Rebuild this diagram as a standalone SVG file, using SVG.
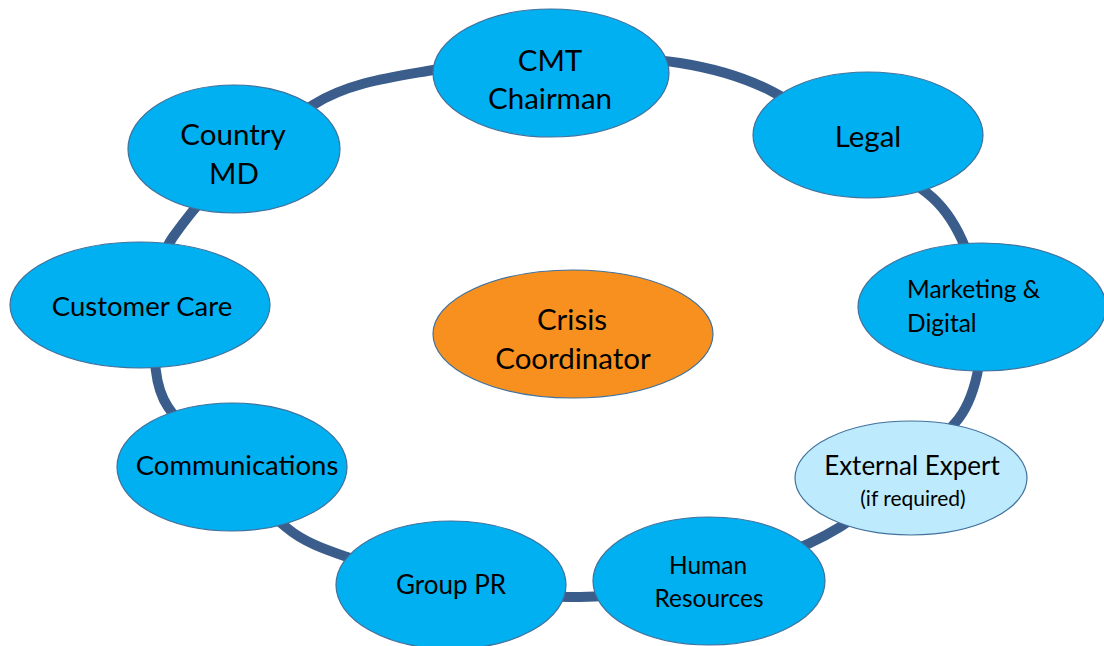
<svg xmlns="http://www.w3.org/2000/svg" width="1104" height="646" viewBox="0 0 1104 646">
<style>
.node{fill:#00B0F0;stroke:#41719C;stroke-width:1.2}
.ext{fill:#BDEBFD;stroke:#41719C;stroke-width:1.2}
.core{fill:#F7901E;stroke:#41719C;stroke-width:1.2}
text{font-family:Lato,"Open Sans","Liberation Sans",sans-serif;fill:#000;text-anchor:middle}
.lg{font-size:29.5px}
.md{font-size:27.5px}
.sm{font-size:26px}
.xs{font-size:24.5px}
.tiny{font-size:21px}
.ring{fill:none;stroke:#3B5D8C;stroke-width:10}
</style>
<rect width="1104" height="646" fill="#fff"/>
<g id="connectors">
<path class="ring" d="M433,70 C478.1,62.1 524.2,61.3 570,60 C606.7,59 643.7,57.3 680,63 C712.1,68.1 744.2,76.9 773,92 C827.3,120.6 878.6,155.1 927,193 C942.4,205 953.9,222.2 962,240 C972,262 977.3,286 980,310 C982.4,331.6 981.7,353.8 977,375 C973.2,392.2 966.8,409.9 955,423 C920.4,461.4 884,499.9 840,527 C797.5,553.1 748.2,567 700,580 C661,590.5 620.4,596.2 580,597 C536.5,597.9 492.9,592.4 450,585 C414.9,579 380.6,568.7 347,557 C326,549.7 304,542.3 287,528 C243.6,491.7 199.4,454.1 168,407 C153.6,385.4 154.2,356 155,330 C155.9,298.4 154.8,262.8 173,237 C209.9,184.6 259.1,139.6 313,105 C348.1,82.5 391.9,77.2 433,70 Z"/>
</g>
<g id="cmt-chairman">
<ellipse class="node" cx="551" cy="73" rx="118" ry="64"/>
<text class="lg" x="550" y="71">CMT</text>
<text class="lg" x="550" y="109">Chairman</text>
</g>
<g id="legal">
<ellipse class="node" cx="868" cy="135" rx="115" ry="63"/>
<text class="lg" x="868" y="147">Legal</text>
</g>
<g id="country-md">
<ellipse class="node" cx="234" cy="149" rx="106" ry="64"/>
<text class="lg" x="233" y="145">Country</text>
<text class="lg" x="234" y="184">MD</text>
</g>
<g id="customer-care">
<ellipse class="node" cx="140" cy="305" rx="130" ry="63"/>
<text class="md" x="142" y="316">Customer Care</text>
</g>
<g id="marketing-digital">
<ellipse class="node" cx="982" cy="307" rx="124" ry="64"/>
<text class="xs" x="907" y="298" style="text-anchor:start">Marketing &amp;</text>
<text class="xs" x="907" y="332" style="text-anchor:start">Digital</text>
</g>
<g id="crisis-coordinator">
<ellipse class="core" cx="573" cy="334" rx="140" ry="64"/>
<text class="lg" x="572" y="330">Crisis</text>
<text class="lg" x="573" y="369">Coordinator</text>
</g>
<g id="communications">
<ellipse class="node" cx="232" cy="467" rx="115" ry="64"/>
<text class="md" x="237" y="475">Communications</text>
</g>
<g id="external-expert">
<ellipse class="ext" cx="911" cy="478" rx="116" ry="57"/>
<text class="sm" x="912" y="475">External Expert</text>
<text class="tiny" x="913" y="506">(if required)</text>
</g>
<g id="group-pr">
<ellipse class="node" cx="451" cy="585" rx="115" ry="64"/>
<text class="sm" x="451" y="594">Group  PR</text>
</g>
<g id="human-resources">
<ellipse class="node" cx="709" cy="581" rx="116" ry="64"/>
<text class="xs" x="708" y="574">Human</text>
<text class="xs" x="709" y="607">Resources</text>
</g>
</svg>
